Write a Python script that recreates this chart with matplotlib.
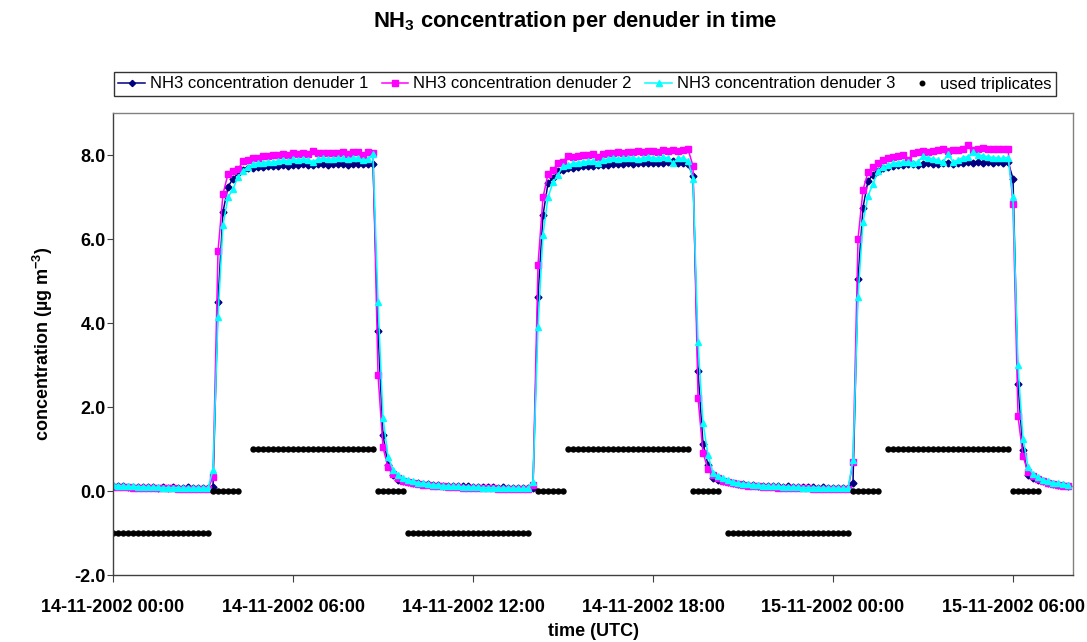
import pandas as pd
import matplotlib.pyplot as plt
import matplotlib.dates as mdates

plt.rcParams['font.family'] = ['Liberation Sans', 'DejaVu Sans']
plt.rcParams['mathtext.fontset'] = 'custom'
plt.rcParams['mathtext.rm'] = 'Liberation Sans'
plt.rcParams['mathtext.bf'] = 'Liberation Sans:bold'

# measurements every 10 minutes from 14-11-2002 00:00
START = "2002-11-14 00:00"

denuder1 = [
    0.12, 0.11, 0.11, 0.10, 0.10, 0.09, 0.10, 0.09, 0.09, 0.08, 0.09, 0.08, 0.09, 0.08, 0.08, 0.09, 0.08, 0.08, 0.07, 0.08,
    0.10, 4.50, 6.65, 7.24, 7.44, 7.56, 7.64,
    7.68, 7.70, 7.72, 7.72, 7.74, 7.73, 7.75, 7.76, 7.74, 7.77, 7.76, 7.78, 7.77, 7.76, 7.79, 7.78, 7.77, 7.79, 7.78, 7.78,
    7.77, 7.79, 7.78, 7.79, 7.78, 7.78,
    3.82, 1.33, 0.62, 0.38, 0.27,
    0.24, 0.21, 0.20, 0.18, 0.17, 0.16, 0.15, 0.15, 0.13, 0.13, 0.12, 0.12, 0.11, 0.11, 0.10, 0.10, 0.10, 0.09, 0.09, 0.08,
    0.09, 0.08, 0.08, 0.08, 0.08, 0.07,
    0.07, 4.62, 6.57, 7.33, 7.45, 7.62, 7.65, 7.68,
    7.70, 7.72, 7.73, 7.74, 7.74, 7.76, 7.77, 7.76, 7.78, 7.79, 7.78, 7.80, 7.79, 7.81, 7.80, 7.82, 7.81, 7.80, 7.82, 7.83,
    7.86, 7.80, 7.82, 7.78,
    7.50, 2.86, 1.13, 0.62, 0.30, 0.27,
    0.24, 0.21, 0.19, 0.17, 0.16, 0.15, 0.14, 0.13, 0.13, 0.12, 0.11, 0.12, 0.10, 0.11, 0.10, 0.09, 0.10, 0.09, 0.09, 0.08,
    0.09, 0.08, 0.08, 0.07, 0.08, 0.07,
    0.20, 5.04, 6.75, 7.39, 7.52, 7.62,
    7.68, 7.72, 7.75, 7.77, 7.76, 7.78, 7.79, 7.77, 7.79, 7.80, 7.79, 7.78, 7.81, 7.80, 7.79, 7.82, 7.80, 7.83, 7.81, 7.84,
    7.82, 7.83, 7.82, 7.83, 7.82, 7.84,
    7.44, 2.54, 0.97, 0.38, 0.32,
    0.27, 0.23, 0.20, 0.17, 0.15, 0.14, 0.13,
]

denuder2 = [
    0.10, 0.10, 0.09, 0.09, 0.08, 0.08, 0.07, 0.07, 0.07, 0.06, 0.06, 0.06, 0.06, 0.05, 0.05, 0.05, 0.05, 0.05, 0.05, 0.05,
    0.34, 5.71, 7.07, 7.55, 7.61, 7.66, 7.85,
    7.88, 7.92, 7.94, 7.97, 7.97, 7.99, 8.01, 8.02, 8.01, 8.04, 8.03, 8.05, 8.03, 8.09, 8.05, 8.04, 8.05, 8.05, 8.04, 8.08,
    8.02, 8.07, 8.08, 8.01, 8.07, 8.05,
    2.77, 1.04, 0.56, 0.40, 0.30,
    0.25, 0.22, 0.19, 0.17, 0.15, 0.14, 0.13, 0.12, 0.11, 0.10, 0.09, 0.09, 0.08, 0.08, 0.07, 0.07, 0.06, 0.06, 0.06, 0.05,
    0.05, 0.05, 0.05, 0.04, 0.04, 0.04,
    0.14, 5.39, 6.99, 7.55, 7.64, 7.81, 7.84, 7.98,
    7.96, 7.98, 8.00, 8.01, 8.02, 7.95, 8.03, 8.04, 8.05, 8.06, 8.04, 8.08, 8.06, 8.10, 8.07, 8.09, 8.10, 8.08, 8.11, 8.10,
    8.12, 8.10, 8.11, 8.14,
    7.74, 2.22, 0.91, 0.52, 0.38, 0.30,
    0.25, 0.21, 0.18, 0.16, 0.14, 0.13, 0.12, 0.11, 0.10, 0.09, 0.09, 0.08, 0.08, 0.07, 0.07, 0.06, 0.06, 0.06, 0.05, 0.05,
    0.05, 0.05, 0.04, 0.04, 0.04, 0.04,
    0.68, 6.00, 7.17, 7.59, 7.72, 7.82,
    7.88, 7.92, 7.95, 7.98, 8.00, 7.87, 8.04, 8.06, 8.09, 8.08, 8.10, 8.11, 8.14, 8.10, 8.13, 8.12, 8.14, 8.24, 8.13, 8.15,
    8.16, 8.14, 8.15, 8.14, 8.15, 8.15,
    6.83, 1.78, 0.83, 0.46, 0.35,
    0.28, 0.23, 0.19, 0.16, 0.14, 0.13, 0.12,
]

denuder3 = [
    0.14, 0.13, 0.12, 0.11, 0.11, 0.10, 0.10, 0.09, 0.09, 0.09, 0.08, 0.08, 0.08, 0.08, 0.07, 0.07, 0.07, 0.07, 0.07, 0.07,
    0.50, 4.14, 6.33, 6.99, 7.19, 7.48, 7.62,
    7.72, 7.78, 7.80, 7.82, 7.84, 7.83, 7.86, 7.88, 7.86, 7.90, 7.88, 7.91, 7.89, 7.84, 7.90, 7.92, 7.90, 7.91, 7.93, 7.92,
    7.90, 7.94, 7.92, 7.88, 7.90, 8.02,
    4.50, 1.75, 0.82, 0.50, 0.38,
    0.30, 0.26, 0.23, 0.20, 0.18, 0.17, 0.15, 0.14, 0.13, 0.12, 0.11, 0.11, 0.10, 0.10, 0.09, 0.09, 0.08, 0.08, 0.08, 0.07,
    0.07, 0.07, 0.07, 0.06, 0.06, 0.06,
    0.22, 3.90, 6.10, 6.99, 7.35, 7.53, 7.73, 7.76,
    7.80, 7.82, 7.84, 7.85, 7.86, 7.80, 7.88, 7.90, 7.94, 7.91, 7.93, 7.92, 7.94, 7.90, 7.93, 7.95, 7.94, 7.92, 7.95, 7.93,
    7.80, 7.92, 7.93, 7.86,
    7.44, 3.55, 1.62, 0.86, 0.42, 0.35,
    0.30, 0.26, 0.22, 0.19, 0.17, 0.16, 0.15, 0.14, 0.13, 0.12, 0.11, 0.11, 0.10, 0.10, 0.09, 0.09, 0.08, 0.08, 0.08, 0.08,
    0.07, 0.07, 0.07, 0.07, 0.06, 0.06,
    0.74, 4.62, 6.40, 7.03, 7.31, 7.62,
    7.72, 7.76, 7.80, 7.82, 7.84, 7.83, 7.82, 7.84, 7.97, 7.93, 7.91, 7.88, 7.83, 8.02, 7.84, 7.88, 7.94, 7.96, 8.06, 8.01,
    7.98, 7.96, 7.94, 7.93, 7.92, 7.94,
    6.99, 2.99, 1.25, 0.58, 0.40,
    0.33, 0.27, 0.23, 0.20, 0.18, 0.16, 0.14,
]

# used triplicates: start of each block, number of 10-min samples, plotted level
trip_start = ["2002-11-14 00:00", "2002-11-14 03:20", "2002-11-14 04:40", "2002-11-14 08:50",
              "2002-11-14 09:50", "2002-11-14 14:10", "2002-11-14 15:10", "2002-11-14 19:20",
              "2002-11-14 20:30", "2002-11-15 00:40", "2002-11-15 01:50", "2002-11-15 06:00"]
trip_count = [20, 6, 25, 6, 25, 6, 25, 6, 25, 6, 25, 6]
trip_level = [-1, 0, 1, 0, -1, 0, 1, 0, -1, 0, 1, 0]

times = pd.date_range(START, periods=len(denuder1), freq="10min")

trip_x = []
trip_y = []
for s, n, lev in zip(trip_start, trip_count, trip_level):
    trip_x += list(pd.date_range(s, periods=n, freq="10min"))
    trip_y += [lev] * n

fig = plt.figure(figsize=(10.87, 6.42), dpi=100)
ax = fig.add_axes([113/1087, 1 - 575/642, 960/1087, 462/642])

ax.plot(times, denuder1, color="#000080", marker="D", markersize=3.5, lw=1.1,
        label="NH3 concentration denuder 1")
ax.plot(times, denuder2, color="#FF00FF", marker="s", markersize=4.5, lw=1.1,
        label="NH3 concentration denuder 2")
ax.plot(times, denuder3, color="#00FFFF", marker="^", markersize=5, lw=1.1,
        label="NH3 concentration denuder 3")
ax.plot(trip_x, trip_y, ls="none", marker="o", markersize=3.6, color="black",
        label="used triplicates")

ax.set_xlim(pd.Timestamp("2002-11-14 00:00"), pd.Timestamp("2002-11-15 08:00"))
ax.set_ylim(-2, 9)
ax.set_yticks([-2, 0, 2, 4, 6, 8])
ax.yaxis.set_major_formatter(plt.FormatStrFormatter("%.1f"))
ax.xaxis.set_major_locator(mdates.HourLocator(byhour=[0, 6, 12, 18]))
ax.xaxis.set_major_formatter(mdates.DateFormatter("%d-%m-%Y %H:%M"))

for s in ax.spines.values():
    s.set_color("#808080")
    s.set_linewidth(1)
ax.spines["left"].set_color("#404040")
ax.spines["bottom"].set_color("#404040")
ax.tick_params(direction="out", length=5, color="#404040", labelsize=13)
ax.tick_params(axis="x", pad=12)
ax.tick_params(axis="y", length=4, pad=1)
for lab in ax.get_xticklabels() + ax.get_yticklabels():
    lab.set_fontweight("bold")

ax.set_xlabel("time (UTC)", fontsize=13, fontweight="bold", labelpad=5)
ax.set_ylabel(r"concentration (µg m$^{\mathbf{-3}}$)", fontsize=13, fontweight="bold", labelpad=14)

fig.text(575/1087, 1 - 21/642, r"NH$_\mathbf{3}$ concentration per denuder in time",
         ha="center", va="center", fontsize=15.8, fontweight="bold")

leg = fig.legend(loc="center", bbox_to_anchor=(585/1087, 1 - 84/642), ncol=4,
                 fontsize=12, frameon=True, fancybox=False, handlelength=1.6,
                 handletextpad=0.3, columnspacing=0.8, borderpad=0.25, markerscale=0.9)
leg.get_frame().set_edgecolor("black")
leg.get_frame().set_linewidth(1)

fig.savefig("out.png", dpi=100)
